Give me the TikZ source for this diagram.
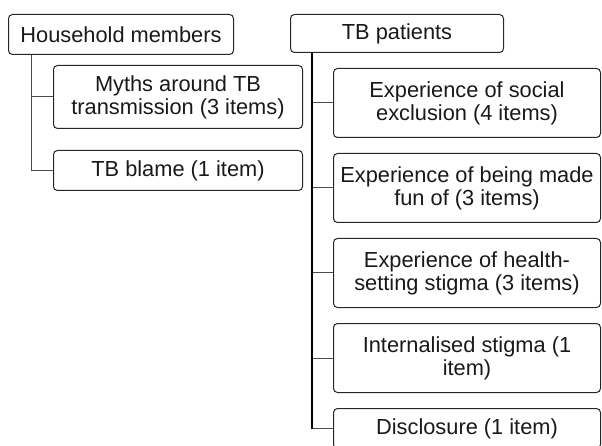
\documentclass[tikz,border=0pt]{standalone}
\usepackage{fontspec}
\setmainfont{Liberation Sans}
\begin{document}
\begin{tikzpicture}[x=1pt,y=-1pt,
  box/.style={draw=black!85, rounded corners=4pt, line width=1pt, align=center,
    inner sep=0pt, anchor=north west, text=black!90,
    font=\fontsize{21.8}{23}\selectfont},
  branch/.style={draw=black!70, line width=1pt},
  trunk/.style={draw=black, line width=1.6pt}]
\useasboundingbox (0,0) rectangle (602,446);
% left group
\node[box, minimum width=225pt, minimum height=40pt] (hm) at (8,14) {Household members};
\node[box, minimum width=249pt, minimum height=63pt] (myths) at (53,65) {Myths around TB\\transmission (3 items)};
\node[box, minimum width=249pt, minimum height=40pt] (blame) at (53,150) {TB blame (1 item)};
\draw[branch] ([xshift=23pt]hm.south west) |- (myths.west);
\draw[branch] ([xshift=23pt]hm.south west) |- (blame.west);
% right group
\node[box, minimum width=213pt, minimum height=38pt] (tp) at (290,14) {TB patients};
\node[box, minimum width=267pt, minimum height=69pt] (soc) at (333,68) {Experience of social\\exclusion (4 items)};
\node[box, minimum width=267pt, minimum height=69pt] (fun) at (333,153) {Experience of being made\\fun of (3 items)};
\node[box, minimum width=267pt, minimum height=69pt] (hs) at (333,238) {Experience of health-\\setting stigma (3 items)};
\node[box, minimum width=267pt, minimum height=69pt] (int) at (333,323) {Internalised stigma (1\\item)};
\node[box, minimum width=267pt, minimum height=40pt] (disc) at (333,408) {Disclosure (1 item)};
\foreach \n in {soc,fun,hs,int,disc}
  \draw[branch] ([xshift=22pt]tp.south west) |- (\n.west);
\draw[trunk] ([xshift=22pt]tp.south west) -- ([xshift=22pt]tp.south west |- disc.west);
\end{tikzpicture}
\end{document}
